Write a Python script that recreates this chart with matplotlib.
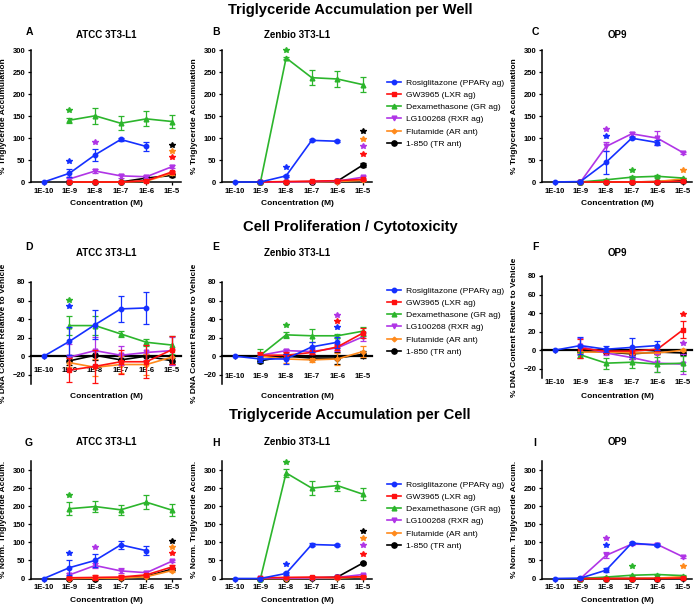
import matplotlib
matplotlib.use('Agg')
import matplotlib.pyplot as plt
from matplotlib.lines import Line2D

plt.rcParams['font.family'] = ['Liberation Sans', 'DejaVu Sans']

conc_ticks = [-10, -9, -8, -7, -6, -5]
conc_labels = ['1E-10', '1E-9', '1E-8', '1E-7', '1E-6', '1E-5']
rosi_conc = [-10, -9, -8, -7, -6]
other_conc = [-9, -8, -7, -6, -5]

names = ['Rosiglitazone (PPARγ ag)', 'GW3965 (LXR ag)', 'Dexamethasone (GR ag)',
         'LG100268 (RXR ag)', 'Flutamide (AR ant)', '1-850 (TR ant)']
colors = ['#1530ff', '#ff1010', '#2cb52c', '#b035e6', '#ff8a1c', '#000000']
markers = ['o', 's', '^', 'v', 'D', 'o']
msizes = [3.2, 3.2, 3.4, 3.4, 2.4, 3.8]

# order: rosi, gw3965, dex, lg100268, flutamide, 1-850
A_mean = [[0, 20, 62, 97, 81], [0, 0, 0, 3, 23], [141, 151, 134, 144, 138],
          [7, 25, 14, 12, 35], [0, 0, 0, 2, 20], [0, 0, 0, 9, 15]]
A_err = [[0, 9, 14, 3, 10], [0, 0, 0, 2, 3], [6, 18, 16, 17, 15],
         [3, 4, 5, 4, 3], [0, 0, 0, 2, 3], [0, 0, 0, 4, 3]]
A_stars = [(0, -9, 48), (2, -9, 165), (3, -8, 91), (5, -5, 85), (4, -5, 70), (1, -5, 57)]

B_mean = [[0, 0, 14, 95, 93], [0, 1, 2, 3, 6], [0, 283, 238, 235, 222],
          [0, 0, 1, 2, 11], [0, 0, 0, 1, 4], [0, 0, 0, 2, 39]]
B_err = [[0, 0, 2, 2, 2], [0, 1, 1, 1, 1], [0, 3, 17, 18, 17],
         [0, 0, 1, 1, 2], [0, 0, 0, 1, 1], [0, 0, 0, 1, 4]]
B_stars = [(0, -8, 35), (2, -8, 300), (5, -5, 116), (4, -5, 99), (3, -5, 83), (1, -5, 63)]

C_mean = [[0, 1, 45, 100, 90], [0, 0, 0, 0, 2], [0, 5, 11, 13, 9],
          [0, 81, 110, 100, 67], [0, 0, 0, 1, 7], [0, 0, 0, 1, 3]]
C_err = [[0, 1, 26, 3, 6], [0, 0, 0, 0, 1], [0, 1, 2, 2, 1],
         [0, 10, 5, 16, 2], [0, 0, 0, 0, 1], [0, 0, 0, 0, 1]]
C_stars = [(3, -8, 121), (0, -8, 106), (2, -7, 28), (4, -5, 28)]

D_mean = [[0, 16, 34, 51, 52], [-15, -11, -6, -6, 7], [33, 33, 24, 15, 12],
          [-1, 6, 1, 4, 6], [-7, -12, -9, -9, -1], [-5, 1, -4, 0, -5]]
D_err = [[0, 15, 16, 14, 17], [13, 18, 13, 18, 15], [10, 10, 3, 4, 10],
         [14, 15, 10, 8, 15], [5, 9, 9, 11, 8], [4, 5, 4, 5, 3]]
D_stars = [(2, -9, 61), (0, -9, 54)]

E_mean = [[0, -3, -3, 10, 15], [1, 1, 4, 10, 25], [1, 23, 22, 22, 27],
          [1, 6, 5, 9, 21], [0, -3, -4, -3, 5], [-5, 0, -2, -2, 2]]
E_err = [[0, 3, 5, 5, 6], [3, 3, 2, 3, 5], [7, 3, 7, 2, 5],
         [2, 2, 3, 3, 5], [2, 4, 2, 6, 6], [2, 2, 2, 6, 4]]
E_stars = [(3, -6, 44), (1, -6, 38), (0, -6, 31), (2, -8, 34)]

F_mean = [[0, 5, 1, 3, 5], [2, -1, -1, 1, 22], [-5, -14, -13, -15, -14],
          [4, -3, -8, -14, -15], [-2, -2, -3, -3, 0], [-1, -2, -4, -2, -3]]
F_err = [[0, 9, 3, 10, 5], [10, 2, 2, 2, 9], [3, 6, 6, 8, 8],
         [9, 2, 2, 10, 11], [1, 1, 1, 1, 1], [1, 1, 5, 2, 2]]
F_stars = [(1, -5, 39), (3, -5, 8)]

G_mean = [[0, 30, 50, 93, 77], [2, 3, 4, 10, 32], [193, 199, 190, 211, 189],
          [10, 36, 21, 16, 48], [0, 1, 1, 5, 22], [0, 0, 2, 6, 26]]
G_err = [[0, 20, 18, 12, 12], [3, 8, 5, 3, 4], [18, 16, 13, 19, 17],
         [4, 8, 7, 5, 3], [1, 1, 1, 2, 3], [1, 1, 1, 2, 3]]
G_stars = [(0, -9, 70), (2, -9, 231), (3, -8, 87), (5, -5, 104), (4, -5, 87), (1, -5, 70)]

H_mean = [[0, 0, 14, 94, 92], [2, 3, 4, 3, 5], [0, 292, 250, 257, 233],
          [1, 1, 2, 3, 11], [0, 0, 1, 1, 5], [0, 0, 1, 4, 43]]
H_err = [[0, 0, 3, 3, 3], [1, 1, 1, 1, 1], [0, 10, 19, 14, 16],
         [0, 0, 1, 1, 2], [0, 0, 1, 1, 1], [0, 0, 1, 1, 3]]
H_stars = [(0, -8, 39), (2, -8, 323), (5, -5, 132), (4, -5, 112), (3, -5, 92), (1, -5, 68)]

I_mean = [[0, 1, 23, 98, 92], [0, 0, 0, 0, 1], [0, 4, 9, 11, 8],
          [0, 64, 95, 94, 60], [0, 0, 0, 1, 5], [0, 0, 0, 0, 1]]
I_err = [[0, 1, 6, 3, 3], [0, 0, 0, 0, 1], [0, 1, 1, 1, 1],
         [0, 8, 3, 4, 2], [0, 0, 0, 0, 1], [0, 0, 0, 0, 1]]
I_stars = [(3, -8, 112), (0, -8, 94), (2, -7, 34), (4, -5, 34)]

row_titles = ['Triglyceride Accumulation per Well', 'Cell Proliferation / Cytotoxicity',
              'Triglyceride Accumulation per Cell']
cell_lines = ['ATCC 3T3-L1', 'Zenbio 3T3-L1', 'OP9']
ylabels = ['% Triglyceride Accumulation', '% DNA Content Relative to Vehicle',
           '% Norm. Triglyceride Accum.']

W, H = 700, 609
fig = plt.figure(figsize=(W / 100, H / 100), dpi=100)


def fx(px):
    return px / W


def fy(py):
    return 1 - py / H


col_left = [31, 222, 542]
letter_x = [29, 216, 535]
ax_w = 150
# (top, bottom) in pixels for each row / column
rows_px = [[(50.5, 182), (50.5, 182), (50.5, 182)],
           [(282, 384), (282, 384), (276, 378)],
           [(461, 578.5), (461, 578.5), (461, 578.5)]]
ylims = [(0, 300), (-30, 80), (0, 325)]
yticks = [range(0, 301, 50), range(-20, 81, 20), range(0, 301, 50)]
row_title_y = [10, 227, 415]
title_y = [35, 253, 442]
letter_y = [32, 247, 443]
xlabel_y = [203, 396, 600]
# distance of x tick labels below the x axis line (row 2 differs per panel)
xtick_pad = [[1.5, 1.5, 1.5], [5, 9.5, 18.5], [1.5, 1.5, 1.5]]

data = [[(A_mean, A_err, A_stars), (B_mean, B_err, B_stars), (C_mean, C_err, C_stars)],
        [(D_mean, D_err, D_stars), (E_mean, E_err, E_stars), (F_mean, F_err, F_stars)],
        [(G_mean, G_err, G_stars), (H_mean, H_err, H_stars), (I_mean, I_err, I_stars)]]
letters = [['A', 'B', 'C'], ['D', 'E', 'F'], ['G', 'H', 'I']]
legend_top = [79, 287, 481]

for r in range(3):
    fig.text(0.5, fy(row_title_y[r]), row_titles[r], ha='center', va='center',
             fontsize=10.6, fontweight='bold')
    for c in range(3):
        top, bot = rows_px[r][c]
        ax = fig.add_axes([fx(col_left[c]), fy(bot), fx(ax_w), (bot - top) / H])
        mean, err, stars = data[r][c]
        for s in reversed(range(6)):
            xs = rosi_conc if s == 0 else other_conc
            ax.plot(xs, mean[s], color=colors[s], marker=markers[s], ms=msizes[s],
                    lw=1.2, clip_on=False, zorder=3 + (6 - s) * 0.1)
            ex = [x for x, e in zip(xs, err[s]) if e > 0]
            ey = [m for m, e in zip(mean[s], err[s]) if e > 0]
            ee = [e for e in err[s] if e > 0]
            if ex:
                ax.errorbar(ex, ey, yerr=ee, fmt='none', ecolor=colors[s], elinewidth=0.9,
                            capsize=2.4, capthick=0.9, clip_on=False,
                            zorder=3 + (6 - s) * 0.1)
        for s, x, y in stars:
            ax.plot([x], [y], marker='*', color=colors[s], ms=4, ls='none',
                    clip_on=False, zorder=5)
        ax.set_xlim(-10.5, -4.65)
        ax.set_ylim(*ylims[r])
        ax.set_xticks(conc_ticks)
        ax.set_xticklabels(conc_labels)
        ax.set_yticks(list(yticks[r]))
        ax.spines['top'].set_visible(False)
        ax.spines['right'].set_visible(False)
        ax.spines['left'].set_linewidth(1.1)
        ax.spines['bottom'].set_linewidth(1.1)
        if r == 1:
            ax.spines['bottom'].set_position(('data', 0))
            ax.spines['bottom'].set_linewidth(1.6)
        ax.tick_params(labelsize=5.5, width=0.9, length=2.5, pad=1.5)
        ax.tick_params(axis='x', pad=xtick_pad[r][c])
        for lab in ax.get_xticklabels() + ax.get_yticklabels():
            lab.set_fontweight('bold')
        ax.set_ylabel(ylabels[r], fontsize=6, fontweight='bold')
        ax.yaxis.set_label_coords(-0.16, 0.5)
        ax.set_xlabel('Concentration (M)', fontsize=6, fontweight='bold')
        ax.xaxis.label.set_va('center')
        ax.xaxis.set_label_coords(0.5, -(xlabel_y[r] - bot) / (bot - top))
        fig.text(fx(col_left[c] + ax_w / 2), fy(title_y[r]), cell_lines[c],
                 ha='center', va='center', fontsize=7, fontweight='bold')
        fig.text(fx(letter_x[c]), fy(letter_y[r]), letters[r][c],
                 ha='center', va='center', fontsize=7.5, fontweight='bold')
        if c == 1:
            handles = [Line2D([], [], color=colors[s], marker=markers[s], ms=msizes[s], lw=1.2)
                       for s in range(6)]
            ax.legend(handles, names, loc='upper left',
                      bbox_to_anchor=(fx(387), fy(legend_top[r])),
                      bbox_transform=fig.transFigure, frameon=False, fontsize=6.1,
                      handlelength=1.7, handletextpad=0.6, labelspacing=0.5,
                      borderpad=0, borderaxespad=0, numpoints=1)

fig.savefig('out.png', dpi=100)
